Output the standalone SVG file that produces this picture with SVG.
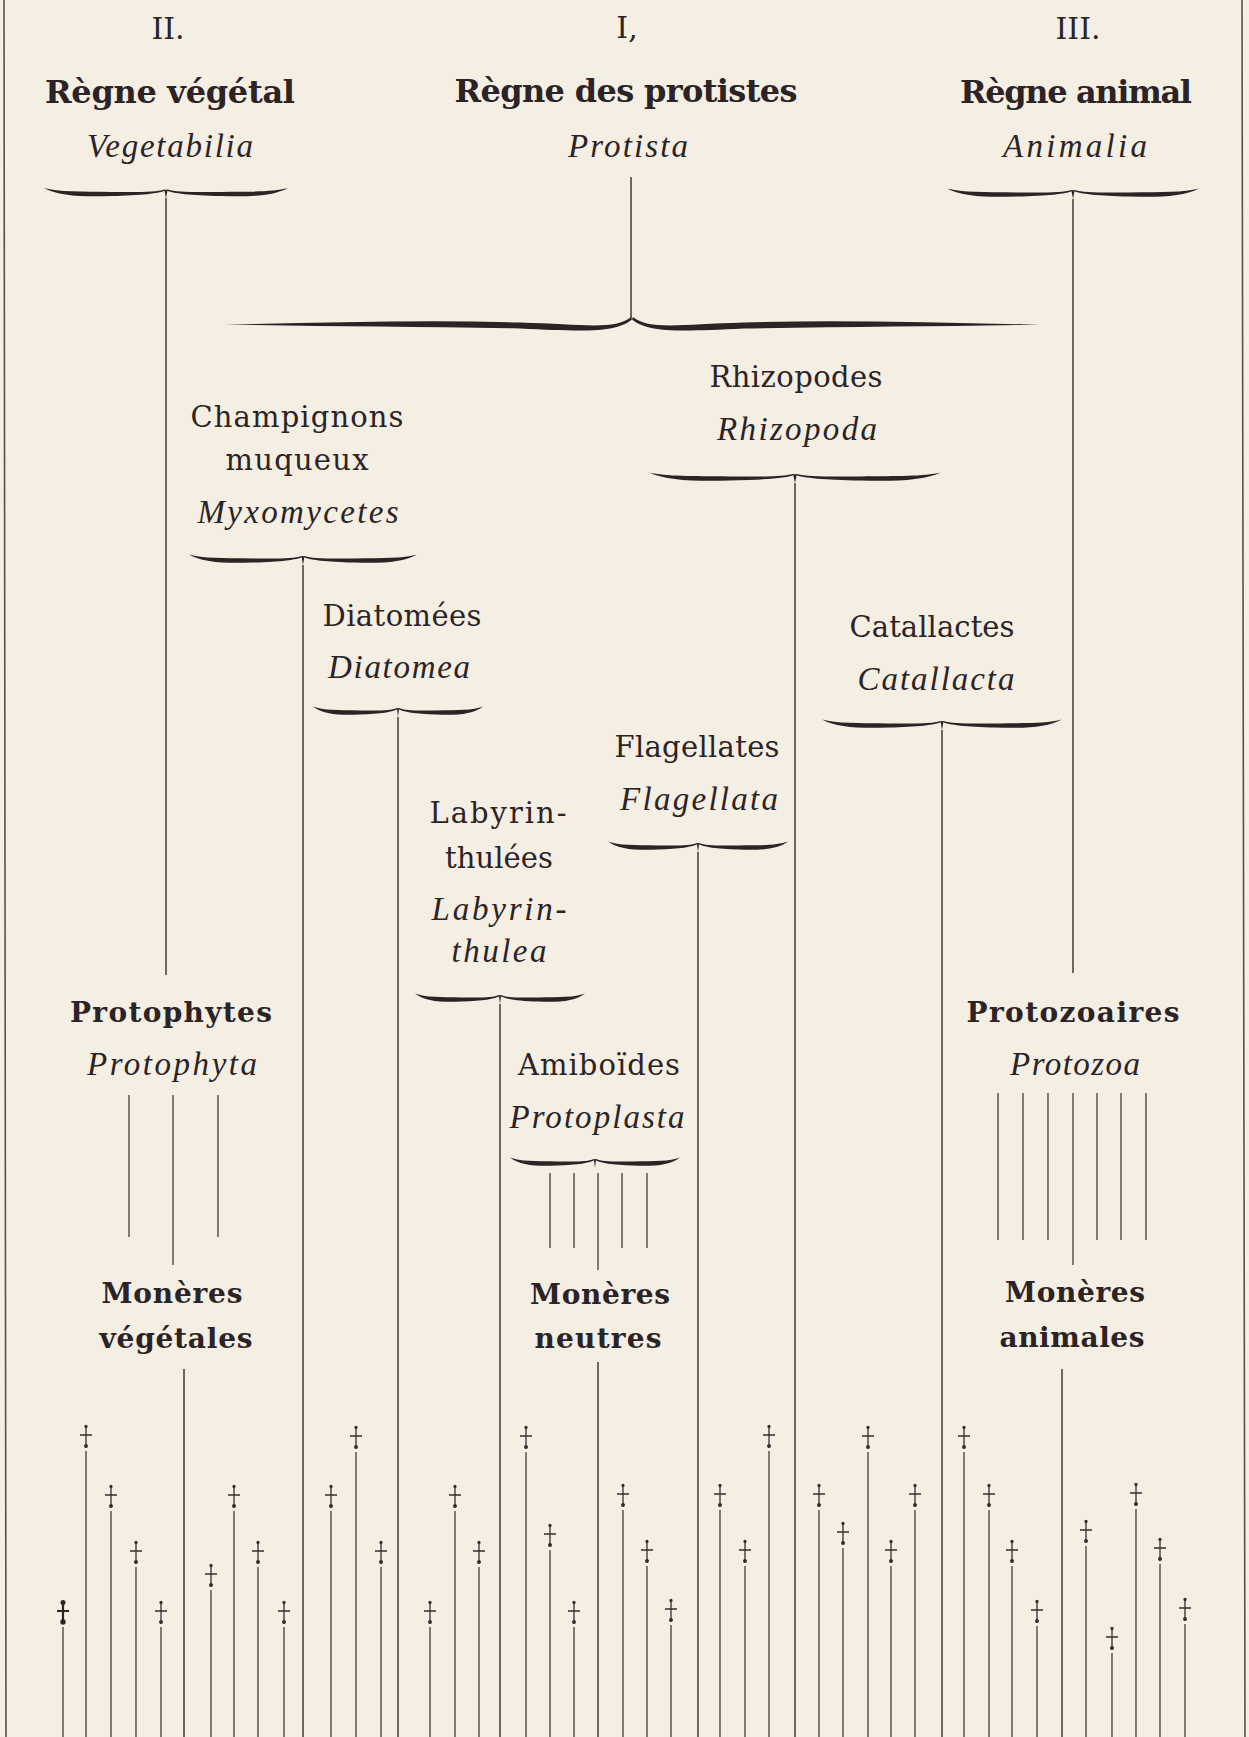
<svg xmlns="http://www.w3.org/2000/svg" xmlns:xlink="http://www.w3.org/1999/xlink" width="1249" height="1737" viewBox="0 0 1249 1737">
<style>
.bg{fill:#f4eee3}
.ink{fill:#2b2326}
.ln{stroke:#3a2b31;stroke-width:1.4;fill:none}
.thin{stroke:#3a2b31;stroke-width:1.2;fill:none}
.brd{stroke:#55504c;stroke-width:1.6;fill:none}
.num{font-family:"DejaVu Serif","Liberation Serif",serif;font-size:30px;fill:#2b2326;text-anchor:middle}
.rb{font-family:"DejaVu Serif","Liberation Serif",serif;font-weight:bold;font-size:32px;fill:#2b2326;text-anchor:middle}
.b{font-family:"DejaVu Serif","Liberation Serif",serif;font-weight:bold;font-size:28px;fill:#2b2326;text-anchor:middle}
.r{font-family:"DejaVu Serif","Liberation Serif",serif;font-size:29px;fill:#2b2326;text-anchor:middle}
.i{font-family:"Liberation Serif","DejaVu Serif",serif;font-style:italic;font-size:33px;fill:#2b2326;text-anchor:middle}
</style>
<defs>
<path id="arm" d="M -100,-5.5 C -88,-1.5 -70,-2 -45,-1.6 C -22,-1.2 -8,-1.4 -1.5,-4 L 0,-3.3 C -6,0 -20,1.8 -45,2.6 C -70,3.4 -88,2.5 -100,-5.5 Z"/>
<g id="brace" class="ink">
<use xlink:href="#arm"/>
<use xlink:href="#arm" transform="scale(-1,1)"/>
<path d="M -1.3,-3.8 L 0,5 L 1.3,-3.8 Z"/>
</g>
<g id="dag" stroke="#3a2b31" stroke-width="1.3" fill="#3a2b31">
<path d="M0,-9 V12 M-6,0 H6" fill="none"/>
<circle cx="0" cy="-8.5" r="1"/>
<circle cx="0" cy="11" r="1.3"/>
</g>
<g id="dagb" stroke="#2b2326" stroke-width="2.2" fill="#2b2326">
<path d="M0,-9 V12 M-6,0 H6" fill="none"/>
<circle cx="0" cy="-8.5" r="1.4"/>
<circle cx="0" cy="11" r="1.6"/>
</g>
</defs>
<rect class="bg" x="0" y="0" width="1249" height="1737"/>
<path class="brd" d="M4,0 L6,1737 M1242,0 L1245,1737"/>

<g id="n-vegetal">
<text class="num" x="168" y="39">II.</text>
<text class="rb" x="170" y="103" textLength="250">Règne végétal</text>
<text class="i" x="170" y="157" textLength="166">Vegetabilia</text>
</g>
<g id="n-protistes">
<text class="num" x="627" y="38">I,</text>
<text class="rb" x="626" y="102" textLength="343">Règne des protistes</text>
<text class="i" x="628" y="157" textLength="120">Protista</text>
</g>
<g id="n-animal">
<text class="num" x="1078" y="39">III.</text>
<text class="rb" x="1076" y="103" textLength="232">Règne animal</text>
<text class="i" x="1075" y="157" textLength="144">Animalia</text>
</g>
<g id="n-myxomycetes">
<text class="r" x="297" y="427" textLength="213">Champignons</text>
<text class="r" x="297" y="470" textLength="143">muqueux</text>
<text class="i" x="298" y="523" textLength="201">Myxomycetes</text>
</g>
<g id="n-diatomea">
<text class="r" x="402" y="626" textLength="159">Diatomées</text>
<text class="i" x="399" y="678" textLength="142">Diatomea</text>
</g>
<g id="n-rhizopoda">
<text class="r" x="796" y="387" textLength="173">Rhizopodes</text>
<text class="i" x="797" y="440" textLength="160">Rhizopoda</text>
</g>
<g id="n-catallacta">
<text class="r" x="932" y="637" textLength="165">Catallactes</text>
<text class="i" x="936" y="690" textLength="157">Catallacta</text>
</g>
<g id="n-flagellata">
<text class="r" x="697" y="757" textLength="165">Flagellates</text>
<text class="i" x="699" y="810" textLength="158">Flagellata</text>
</g>
<g id="n-labyrinthulea">
<text class="r" x="498" y="823" textLength="137">Labyrin-</text>
<text class="r" x="499" y="868" textLength="108">thulées</text>
<text class="i" x="499" y="920" textLength="135">Labyrin-</text>
<text class="i" x="499" y="962" textLength="95">thulea</text>
</g>
<g id="n-protoplasta">
<text class="r" x="599" y="1075" textLength="162">Amiboïdes</text>
<text class="i" x="597" y="1128" textLength="175">Protoplasta</text>
</g>
<g id="n-protophyta">
<text class="b" x="171" y="1022" textLength="202">Protophytes</text>
<text class="i" x="172" y="1075" textLength="170">Protophyta</text>
</g>
<g id="n-protozoa">
<text class="b" x="1073" y="1022" textLength="213">Protozoaires</text>
<text class="i" x="1075" y="1075" textLength="130">Protozoa</text>
</g>
<g id="n-moneres-vegetales">
<text class="b" x="172" y="1303" textLength="141">Monères</text>
<text class="b" x="176" y="1348" textLength="153">végétales</text>
</g>
<g id="n-moneres-neutres">
<text class="b" x="600" y="1304" textLength="140">Monères</text>
<text class="b" x="598" y="1348" textLength="127">neutres</text>
</g>
<g id="n-moneres-animales">
<text class="b" x="1075" y="1302" textLength="140">Monères</text>
<text class="b" x="1072" y="1347" textLength="145">animales</text>
</g>

<g id="connectors">
<!-- braces -->
<use xlink:href="#brace" transform="translate(166,193.5) scale(1.22,1)"/>
<use xlink:href="#brace" transform="translate(1073,194) scale(1.26,1)"/>
<use xlink:href="#brace" transform="translate(303,560) scale(1.14,1)"/>
<use xlink:href="#brace" transform="translate(398,712) scale(0.85,1)"/>
<use xlink:href="#brace" transform="translate(795,478) scale(1.46,1)"/>
<use xlink:href="#brace" transform="translate(942,725) scale(1.2,1)"/>
<use xlink:href="#brace" transform="translate(698,847) scale(0.9,1)"/>
<use xlink:href="#brace" transform="translate(500,999) scale(0.85,1)"/>
<use xlink:href="#brace" transform="translate(595,1163) scale(0.85,1)"/>
<!-- big protista brace -->
<g class="ink">
<path id="bigarm" d="M 225,324.5 C 320,323 420,319.5 520,322.5 C 585,324.5 615,330 631,317 L 632,319.5 C 615,333 585,331.5 520,328.5 C 420,326.5 320,326.5 225,324.5 Z"/>
<use xlink:href="#bigarm" transform="translate(1264,0) scale(-1,1)"/>
</g>
<!-- main lines -->
<path class="ln" d="M631,177 V318 M166,198 V975 M1073,199 V973 M303,565 V1737 M398,717 V1737 M795,483 V1737 M942,730 V1737 M698,852 V1737 M500,1004 V1737 M184,1369 V1737 M598,1362 V1737 M1062,1369 V1737"/>
<!-- short lines -->
<path class="thin" d="M129,1095 V1237 M173,1095 V1265 M218,1095 V1237 M550,1173 V1248 M574,1173 V1248 M598,1173 V1270 M622,1173 V1248 M647,1173 V1248 M998,1093 V1240 M1023,1093 V1240 M1048,1093 V1240 M1073,1093 V1265 M1097,1093 V1240 M1121,1093 V1240 M1146,1093 V1240"/>
<!-- extinct lineages -->
<path class="thin" d="M63,1627V1737 M86,1451V1737 M111,1511V1737 M136,1567V1737 M161,1627V1737 M211,1590V1737 M234,1511V1737 M258,1567V1737 M284,1627V1737 M331,1511V1737 M356,1452V1737 M381,1567V1737 M430,1627V1737 M455,1511V1737 M479,1567V1737 M526,1452V1737 M550,1550V1737 M574,1627V1737 M623,1510V1737 M647,1566V1737 M671,1625V1737 M720,1510V1737 M745,1566V1737 M769,1451V1737 M819,1510V1737 M843,1548V1737 M868,1452V1737 M891,1566V1737 M915,1510V1737 M964,1452V1737 M989,1510V1737 M1012,1566V1737 M1037,1626V1737 M1086,1546V1737 M1112,1653V1737 M1136,1509V1737 M1160,1564V1737 M1185,1624V1737"/>
<use xlink:href="#dagb" x="63" y="1611"/>
<use xlink:href="#dag" x="86" y="1435"/>
<use xlink:href="#dag" x="111" y="1495"/>
<use xlink:href="#dag" x="136" y="1551"/>
<use xlink:href="#dag" x="161" y="1611"/>
<use xlink:href="#dag" x="211" y="1574"/>
<use xlink:href="#dag" x="234" y="1495"/>
<use xlink:href="#dag" x="258" y="1551"/>
<use xlink:href="#dag" x="284" y="1611"/>
<use xlink:href="#dag" x="331" y="1495"/>
<use xlink:href="#dag" x="356" y="1436"/>
<use xlink:href="#dag" x="381" y="1551"/>
<use xlink:href="#dag" x="430" y="1611"/>
<use xlink:href="#dag" x="455" y="1495"/>
<use xlink:href="#dag" x="479" y="1551"/>
<use xlink:href="#dag" x="526" y="1436"/>
<use xlink:href="#dag" x="550" y="1534"/>
<use xlink:href="#dag" x="574" y="1611"/>
<use xlink:href="#dag" x="623" y="1494"/>
<use xlink:href="#dag" x="647" y="1550"/>
<use xlink:href="#dag" x="671" y="1609"/>
<use xlink:href="#dag" x="720" y="1494"/>
<use xlink:href="#dag" x="745" y="1550"/>
<use xlink:href="#dag" x="769" y="1435"/>
<use xlink:href="#dag" x="819" y="1494"/>
<use xlink:href="#dag" x="843" y="1532"/>
<use xlink:href="#dag" x="868" y="1436"/>
<use xlink:href="#dag" x="891" y="1550"/>
<use xlink:href="#dag" x="915" y="1494"/>
<use xlink:href="#dag" x="964" y="1436"/>
<use xlink:href="#dag" x="989" y="1494"/>
<use xlink:href="#dag" x="1012" y="1550"/>
<use xlink:href="#dag" x="1037" y="1610"/>
<use xlink:href="#dag" x="1086" y="1530"/>
<use xlink:href="#dag" x="1112" y="1637"/>
<use xlink:href="#dag" x="1136" y="1493"/>
<use xlink:href="#dag" x="1160" y="1548"/>
<use xlink:href="#dag" x="1185" y="1608"/>
</g>
</svg>
